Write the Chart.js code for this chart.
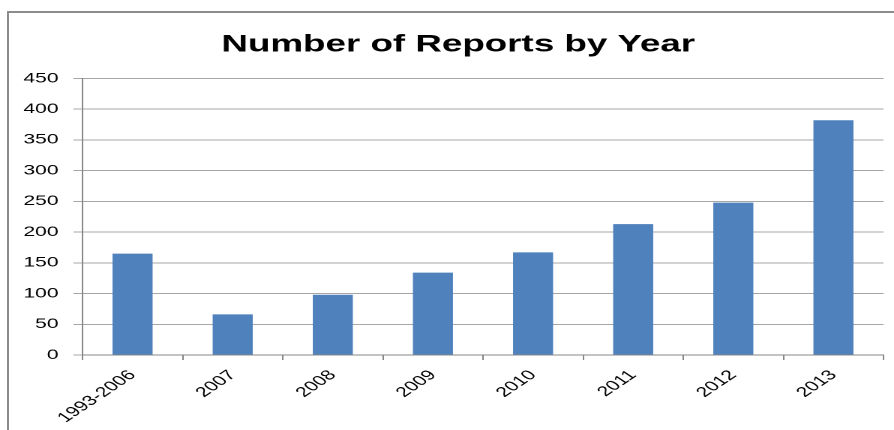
<!DOCTYPE html>
<html>
<head>
<meta charset="utf-8">
<title>Number of Reports by Year</title>
<script src="https://cdn.jsdelivr.net/npm/chart.js@4"></script>
<style>
  html, body { margin: 0; padding: 0; background: #fff; overflow: hidden; }
  #frame { position: absolute; left: 7px; top: 11px; width: 1000px; height: 1000px; border: 2px solid #8c8c8c; pointer-events: none; }
  /* the chart is laid out narrow and stretched sideways */
  #wrap { position: absolute; left: 0; top: 0; width: 596px; height: 430px; transform: scaleX(1.5); transform-origin: 0 0; }
</style>
</head>
<body>
<div id="wrap"><canvas id="reports" width="596" height="430"></canvas></div>
<div id="frame"></div>
<script>
  const years = ["1993-2006", "2007", "2008", "2009", "2010", "2011", "2012", "2013"];
  const reports = [165, 66, 98, 134, 167, 213, 248, 382];
  const yMax = 450;
  const yStep = 50;

  const barBlue = "#4f81bd";
  const gridGrey = "#a6a6a6";
  const axisGrey = "#868686";
  const fontFamily = "'Liberation Sans', Arial, sans-serif";

  // nudge the title so it is centred over the frame rather than the whole canvas
  const titleShift = {
    id: "titleShift",
    afterLayout(chart) {
      if (chart.titleBlock) chart.titleBlock.left += 22;
    },
  };

  new Chart(document.getElementById("reports").getContext("2d"), {
    type: "bar",
    data: {
      labels: years,
      datasets: [{
        data: reports,
        backgroundColor: barBlue,
        borderWidth: 0,
        barPercentage: 0.4,
        categoryPercentage: 1,
      }],
    },
    options: {
      responsive: false,
      animation: false,
      devicePixelRatio: 2,
      layout: { padding: { top: 0, right: 7, bottom: 0, left: 0 } },
      plugins: {
        legend: { display: false },
        tooltip: { enabled: false },
        title: {
          display: true,
          text: "Number of Reports by Year",
          color: "#000",
          font: { family: fontFamily, size: 24.5, weight: "bold" },
          padding: { top: 30, bottom: 19 },
        },
      },
      scales: {
        x: {
          offset: true,
          grid: { offset: true, drawOnChartArea: false, drawTicks: true, tickLength: 5, color: axisGrey },
          border: { color: axisGrey, width: 1 },
          ticks: {
            color: "#000",
            font: { family: fontFamily, size: 14 },
            maxRotation: 45,
            minRotation: 45,
            padding: 7,
          },
          afterFit: (s) => { s.height = 75; },
        },
        y: {
          min: 0,
          max: yMax,
          ticks: {
            stepSize: yStep,
            color: "#000",
            font: { family: fontFamily, size: 14 },
            padding: 10,
          },
          grid: { color: gridGrey, tickLength: 6, drawTicks: true },
          border: { color: axisGrey, width: 1 },
          afterFit: (s) => { s.width = 55; },
        },
      },
    },
    plugins: [titleShift],
  });
</script>
</body>
</html>
